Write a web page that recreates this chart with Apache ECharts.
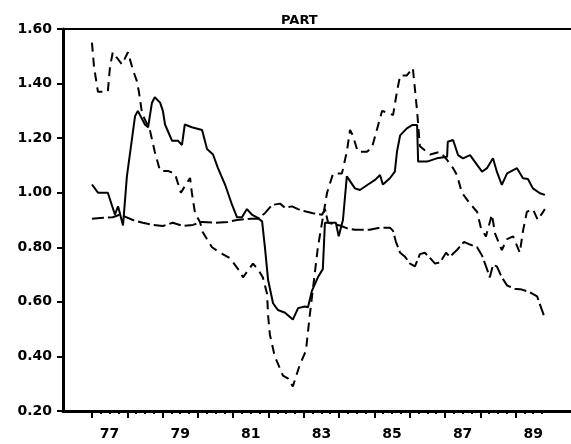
<!DOCTYPE html>
<html>
<head>
<meta charset="utf-8">
<script src="https://cdn.jsdelivr.net/npm/echarts@6/dist/echarts.min.js"></script>
<style>
  html, body { margin: 0; padding: 0; background: #fff; }
  #chart { width: 571px; height: 444px; }
</style>
</head>
<body>
<div id="chart"></div>
<script>
// ----------------- D A T A ----------------- //
const yTicks = [0.2, 0.4, 0.6, 0.8, 1.0, 1.2, 1.4, 1.6]
const yearTicks = [77, 78, 79, 80, 81, 82, 83, 84, 85, 86, 87, 88, 89]
const yearLabels = ['77', '79', '81', '83', '85', '87', '89']

// solid line
const solidYears = [77.00, 77.17, 77.45, 77.65, 77.74, 77.88, 77.99, 78.22, 78.30, 78.50, 78.59, 78.70, 78.78, 78.93,
  79.01, 79.07, 79.27, 79.44, 79.55, 79.63, 79.83, 80.12, 80.26, 80.43, 80.57, 80.77, 80.97, 81.11, 81.25, 81.39,
  81.53, 81.67, 81.82, 81.90, 81.99, 82.13, 82.27, 82.47, 82.69, 82.84, 83.03, 83.12, 83.23, 83.40, 83.54, 83.60,
  83.74, 83.91, 83.99, 84.11, 84.22, 84.45, 84.59, 84.82, 85.02, 85.16, 85.24, 85.44, 85.58, 85.64, 85.73, 85.92,
  86.07, 86.21, 86.24, 86.49, 86.77, 87.06, 87.08, 87.23, 87.37, 87.51, 87.71, 87.91, 88.05, 88.19, 88.36, 88.47,
  88.61, 88.76, 89.04, 89.21, 89.35, 89.49, 89.69, 89.83]
const solidValues = [1.03, 1.00, 1.00, 0.92, 0.95, 0.88, 1.06, 1.28, 1.30, 1.25, 1.24, 1.33, 1.35, 1.33,
  1.30, 1.25, 1.19, 1.19, 1.175, 1.25, 1.24, 1.23, 1.16, 1.14, 1.09, 1.03, 0.955, 0.91, 0.91, 0.94,
  0.92, 0.91, 0.895, 0.80, 0.68, 0.595, 0.57, 0.56, 0.535, 0.577, 0.583, 0.58, 0.64, 0.69, 0.72, 0.89,
  0.89, 0.89, 0.84, 0.90, 1.06, 1.016, 1.01, 1.03, 1.047, 1.065, 1.03, 1.053, 1.077, 1.15, 1.21, 1.236,
  1.248, 1.248, 1.114, 1.114, 1.126, 1.132, 1.187, 1.193, 1.138, 1.126, 1.138, 1.102, 1.077, 1.09, 1.126, 1.077,
  1.029, 1.071, 1.09, 1.053, 1.05, 1.016, 0.998, 0.992]

// long dashed line
const dashYears = [77.00, 77.06, 77.17, 77.45, 77.51, 77.59, 77.85, 78.02, 78.16, 78.27, 78.33, 78.42, 78.64, 78.78,
  78.93, 79.15, 79.35, 79.52, 79.66, 79.78, 79.83, 79.92, 80.06, 80.14, 80.40, 80.63, 80.91, 81.14, 81.28, 81.56,
  81.70, 81.84, 81.96, 81.99, 82.04, 82.18, 82.41, 82.55, 82.69, 82.89, 83.06, 83.17, 83.40, 83.66, 83.83, 84.08,
  84.22, 84.31, 84.39, 84.53, 84.79, 84.93, 85.07, 85.22, 85.53, 85.64, 85.73, 85.92, 86.09, 86.21, 86.29, 86.58,
  86.86, 87.06, 87.23, 87.34, 87.48, 87.71, 87.91, 88.02, 88.16, 88.33, 88.42, 88.61, 88.76, 88.93, 89.12, 89.21,
  89.32, 89.49, 89.63, 89.83]
const dashValues = [1.55, 1.46, 1.37, 1.37, 1.46, 1.515, 1.47, 1.515, 1.45, 1.41, 1.37, 1.29, 1.23, 1.15,
  1.08, 1.08, 1.07, 1.00, 1.03, 1.054, 1.00, 0.925, 0.893, 0.855, 0.80, 0.78, 0.76, 0.72, 0.69, 0.74,
  0.72, 0.69, 0.63, 0.55, 0.48, 0.40, 0.33, 0.32, 0.29, 0.37, 0.42, 0.55, 0.80, 1.00, 1.07, 1.07,
  1.15, 1.23, 1.21, 1.15, 1.15, 1.165, 1.23, 1.30, 1.285, 1.37, 1.43, 1.43, 1.457, 1.30, 1.17, 1.14,
  1.15, 1.12, 1.09, 1.065, 1.00, 0.96, 0.93, 0.87, 0.84, 0.92, 0.85, 0.79, 0.83, 0.84, 0.78, 0.86,
  0.93, 0.94, 0.90, 0.94]

// dash-dot line
const dotYears = [77.00, 77.23, 77.59, 77.79, 78.16, 78.44, 78.73, 79.01, 79.29, 79.58, 79.86, 80.12, 80.48, 80.85,
  81.11, 81.48, 81.70, 81.90, 82.10, 82.33, 82.47, 82.67, 82.89, 83.09, 83.26, 83.52, 83.60, 83.69, 84.02, 84.22,
  84.45, 84.87, 85.16, 85.44, 85.53, 85.61, 85.73, 85.87, 86.01, 86.15, 86.29, 86.43, 86.58, 86.72, 86.86, 87.03,
  87.14, 87.34, 87.54, 87.71, 87.91, 88.05, 88.19, 88.27, 88.36, 88.47, 88.61, 88.76, 88.98, 89.18, 89.41, 89.61,
  89.72, 89.83]
const dotValues = [0.905, 0.907, 0.91, 0.92, 0.90, 0.89, 0.882, 0.878, 0.89, 0.878, 0.882, 0.893, 0.89, 0.893,
  0.90, 0.905, 0.905, 0.925, 0.955, 0.96, 0.945, 0.95, 0.937, 0.93, 0.925, 0.919, 0.94, 0.89, 0.88, 0.87,
  0.864, 0.864, 0.872, 0.872, 0.86, 0.82, 0.78, 0.765, 0.74, 0.73, 0.775, 0.78, 0.76, 0.74, 0.745, 0.78,
  0.765, 0.79, 0.82, 0.81, 0.80, 0.77, 0.72, 0.69, 0.735, 0.73, 0.69, 0.66, 0.648, 0.645, 0.635, 0.62,
  0.58, 0.54]

// ----------------- H E L P E R S ----------------- //
const pairs = (xs, ys) => xs.map((x, i) => [x, ys[i]])

// minor ticks every quarter, skipping the whole years
const quarterTicks = []
for (let y = 77; y <= 89; y++) {
  quarterTicks.push(y + 0.25, y + 0.5, y + 0.75)
}
// labels sit in the middle of their year
const labelValues = yearLabels.map(l => Number(l) + 0.5)

const X_MIN = 76.18
const X_MAX = 90.57
const labelFont = {
  color: '#000',
  fontFamily: 'DejaVu Sans',
  fontWeight: 'bold',
  fontSize: 14
}

const lineSeries = (name, xs, ys, type) => ({
  name,
  type: 'line',
  data: pairs(xs, ys),
  showSymbol: false,
  symbol: 'none',
  animation: false,
  lineStyle: { color: '#000', width: 2, type }
})

const option = {
  animation: false,
  backgroundColor: '#fff',
  title: {
    text: 'PART',
    left: 276,
    top: 9,
    textStyle: { color: '#000', fontFamily: 'DejaVu Sans', fontWeight: 'bold', fontSize: 13 }
  },
  grid: { left: 63, right: 0, top: 29, bottom: 33 },
  xAxis: [
    {
      type: 'value',
      min: X_MIN,
      max: X_MAX,
      position: 'bottom',
      axisLine: { show: true, lineStyle: { color: '#000', width: 3 } },
      axisTick: { show: true, customValues: yearTicks, length: 7, lineStyle: { color: '#000', width: 2 } },
      axisLabel: {
        show: true,
        customValues: labelValues,
        formatter: v => String(Math.floor(v)),
        margin: 16,
        ...labelFont
      },
      splitLine: { show: false }
    },
    {
      type: 'value',
      min: X_MIN,
      max: X_MAX,
      position: 'bottom',
      axisLine: { show: false },
      axisTick: { show: true, customValues: quarterTicks, length: 3, lineStyle: { color: '#000', width: 2 } },
      axisLabel: { show: false },
      splitLine: { show: false }
    },
    {
      type: 'value',
      min: X_MIN,
      max: X_MAX,
      position: 'top',
      axisLine: { show: true, lineStyle: { color: '#000', width: 2 } },
      axisTick: { show: false },
      axisLabel: { show: false },
      splitLine: { show: false }
    }
  ],
  yAxis: {
    type: 'value',
    min: yTicks[0],
    max: yTicks[yTicks.length - 1],
    interval: 0.2,
    axisLine: { show: true, lineStyle: { color: '#000', width: 3 } },
    axisTick: { show: true, length: 6, lineStyle: { color: '#000', width: 2 } },
    axisLabel: {
      formatter: v => v.toFixed(2),
      margin: 11,
      ...labelFont
    },
    splitLine: { show: false }
  },
  series: [
    lineSeries('solid', solidYears, solidValues, 'solid'),
    lineSeries('dashed', dashYears, dashValues, [9, 6]),
    lineSeries('dashdot', dotYears, dotValues, [12, 4])
  ]
}

const myChart = echarts.init(document.getElementById('chart'), null, { renderer: 'canvas' })
myChart.setOption(option)
</script>
</body>
</html>
